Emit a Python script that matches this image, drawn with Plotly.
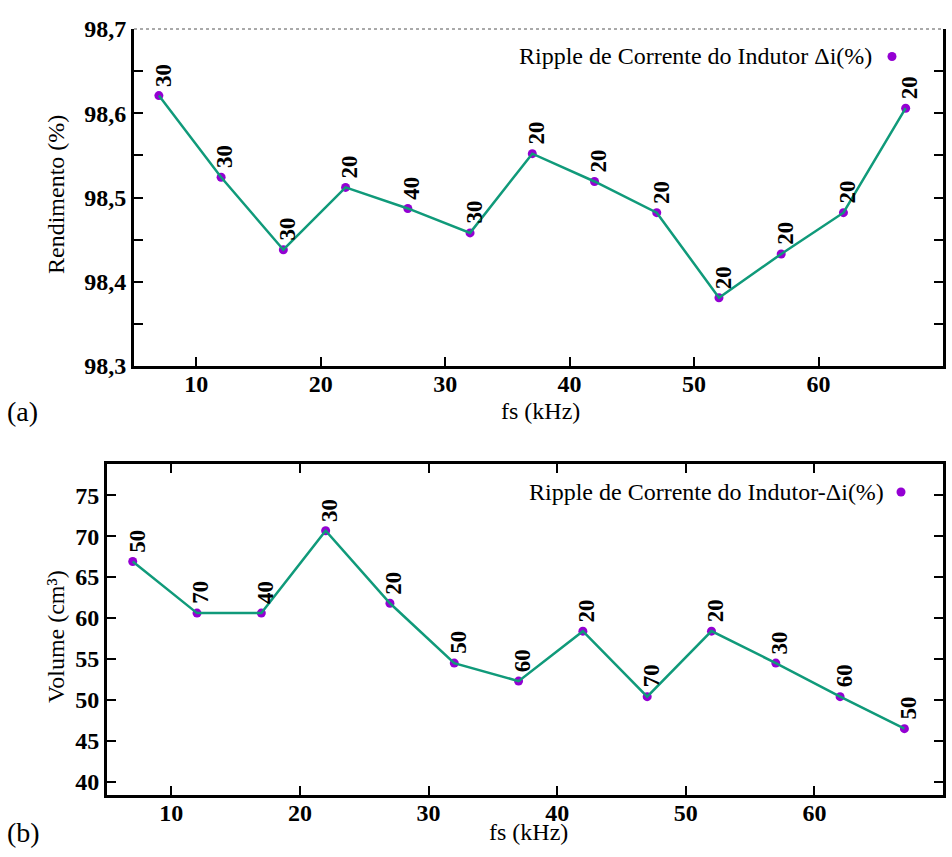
import plotly.graph_objects as go

W, H = 952, 857

fs = [7, 12, 17, 22, 27, 32, 37, 42, 47, 52, 57, 62, 67]
rendimento = [98.621, 98.524, 98.438, 98.512, 98.487, 98.458, 98.552,
              98.519, 98.482, 98.381, 98.433, 98.482, 98.606]
ripple_a = ["30", "30", "30", "20", "40", "30", "20", "20", "20", "20", "20", "20", "20"]
volume = [66.9, 60.6, 60.6, 70.65, 61.8, 54.5, 52.3, 58.4, 50.4, 58.4, 54.5, 50.4, 46.5]
ripple_b = ["50", "70", "40", "30", "20", "50", "60", "20", "70", "20", "30", "60", "50"]

xticks = [10, 20, 30, 40, 50, 60, 70]
yticks_a = [98.3, 98.4, 98.5, 98.6, 98.7]
yticks_a_text = ["98,3", "98,4", "98,5", "98,6", "98,7"]
yticks_b = [40, 45, 50, 55, 60, 65, 70, 75]

FONT = "Liberation Serif"
PURPLE = "#9400d3"
GREEN = "#109a7a"


def px(x):
    return x / W


def py(y):
    return 1 - y / H


fig = go.Figure()

# top plot
fig.add_trace(go.Scatter(x=fs, y=rendimento, mode="markers",
                         marker=dict(color=PURPLE, size=9), xaxis="x", yaxis="y",
                         showlegend=False))
fig.add_trace(go.Scatter(x=fs, y=rendimento, mode="lines",
                         line=dict(color=GREEN, width=2.5), xaxis="x", yaxis="y",
                         showlegend=False))
# bottom plot
fig.add_trace(go.Scatter(x=fs, y=volume, mode="markers",
                         marker=dict(color=PURPLE, size=9), xaxis="x2", yaxis="y2",
                         showlegend=False))
fig.add_trace(go.Scatter(x=fs, y=volume, mode="lines",
                         line=dict(color=GREEN, width=2.5), xaxis="x2", yaxis="y2",
                         showlegend=False))

lblfont = dict(family=FONT, size=23, color="black", weight="bold")
ann = []
for x, y, t in zip(fs, rendimento, ripple_a):
    ann.append(dict(x=x, y=y, xref="x", yref="y", text=t, textangle=-90,
                    showarrow=False, xanchor="center", yanchor="bottom",
                    xshift=4, yshift=7, font=lblfont))
for x, y, t in zip(fs, volume, ripple_b):
    ann.append(dict(x=x, y=y, xref="x2", yref="y2", text=t, textangle=-90,
                    showarrow=False, xanchor="center", yanchor="bottom",
                    xshift=4, yshift=7, font=lblfont))

tfont = dict(family=FONT, size=24, color="black")
# axis titles and panel labels
ann += [
    dict(x=px(56), y=py(195), xref="paper", yref="paper", text="Rendimento (%)",
         textangle=-90, showarrow=False, xanchor="center", yanchor="middle", font=tfont),
    dict(x=px(540), y=py(411), xref="paper", yref="paper", text="fs (kHz)",
         showarrow=False, xanchor="center", yanchor="middle", font=tfont),
    dict(x=px(56), y=py(637), xref="paper", yref="paper", text="Volume (cm³)",
         textangle=-90, showarrow=False, xanchor="center", yanchor="middle", font=tfont),
    dict(x=px(528), y=py(832), xref="paper", yref="paper", text="fs (kHz)",
         showarrow=False, xanchor="center", yanchor="middle", font=tfont),
    dict(x=px(5), y=py(411), xref="paper", yref="paper", text="(a)", xanchor="left",
         yanchor="middle", showarrow=False, font=dict(family=FONT, size=28, color="black")),
    dict(x=px(5), y=py(832), xref="paper", yref="paper", text="(b)", xanchor="left",
         yanchor="middle", showarrow=False, font=dict(family=FONT, size=28, color="black")),
    dict(x=px(874), y=py(56), xref="paper", yref="paper",
         text="Ripple de Corrente do Indutor Δi(%)", xanchor="right", yanchor="middle",
         showarrow=False, font=tfont),
    dict(x=px(886), y=py(492), xref="paper", yref="paper",
         text="Ripple de Corrente do Indutor-Δi(%)", xanchor="right", yanchor="middle",
         showarrow=False, font=tfont),
]

shapes = [
    dict(type="line", xref="paper", yref="paper", x0=px(134), x1=px(943),
         y0=py(29), y1=py(29), line=dict(color="#555555", width=1, dash="dot")),
    dict(type="circle", xref="paper", yref="paper", x0=px(887.5), x1=px(896.5),
         y0=py(52), y1=py(61), fillcolor=PURPLE, line=dict(width=0)),
    dict(type="circle", xref="paper", yref="paper", x0=px(896.5), x1=px(905.5),
         y0=py(487.5), y1=py(496.5), fillcolor=PURPLE, line=dict(width=0)),
]

tickfont = dict(family=FONT, size=24, color="black", weight="bold")
common_x = dict(range=[5, 70], tickvals=xticks, ticks="inside", ticklen=9, tickwidth=2,
                tickcolor="black", showline=True, linecolor="black", linewidth=3,
                showgrid=False, zeroline=False, tickfont=tickfont, ticklabelstandoff=-6)

fig.update_layout(
    width=W, height=H, margin=dict(l=0, r=0, t=0, b=0, autoexpand=False),
    plot_bgcolor="white", paper_bgcolor="white", showlegend=False,
    xaxis=dict(domain=[px(134), px(943)], anchor="y", mirror=False, **common_x),
    xaxis3=dict(domain=[px(134), px(943)], anchor="y", overlaying="x", side="top",
                matches="x", range=[5, 70], tickvals=xticks, ticks="inside", ticklen=9,
                tickwidth=2, tickcolor="black", showline=False, showticklabels=False,
                showgrid=False, zeroline=False),
    yaxis=dict(domain=[py(366), py(29)], anchor="x", range=[98.3, 98.7],
               tickvals=yticks_a, ticktext=yticks_a_text,
               minor=dict(tickvals=[98.35, 98.45, 98.55, 98.65], ticks="inside",
                          ticklen=9, tickwidth=2, tickcolor="black"),
               ticks="inside", ticklen=9, tickwidth=2, tickcolor="black",
               showline=True, linecolor="black", linewidth=3, mirror="ticks",
               showgrid=False, zeroline=False, tickfont=tickfont),
    xaxis2=dict(domain=[px(107), px(943)], anchor="y2", mirror="ticks", **common_x),
    yaxis2=dict(domain=[py(795), py(464)], anchor="x2", range=[38.4, 78.8],
                tickvals=yticks_b, ticks="inside", ticklen=9, tickwidth=2,
                tickcolor="black", showline=True, linecolor="black", linewidth=3,
                mirror="ticks", showgrid=False, zeroline=False, tickfont=tickfont),
    annotations=ann, shapes=shapes,
)

fig.write_html("out.html")
